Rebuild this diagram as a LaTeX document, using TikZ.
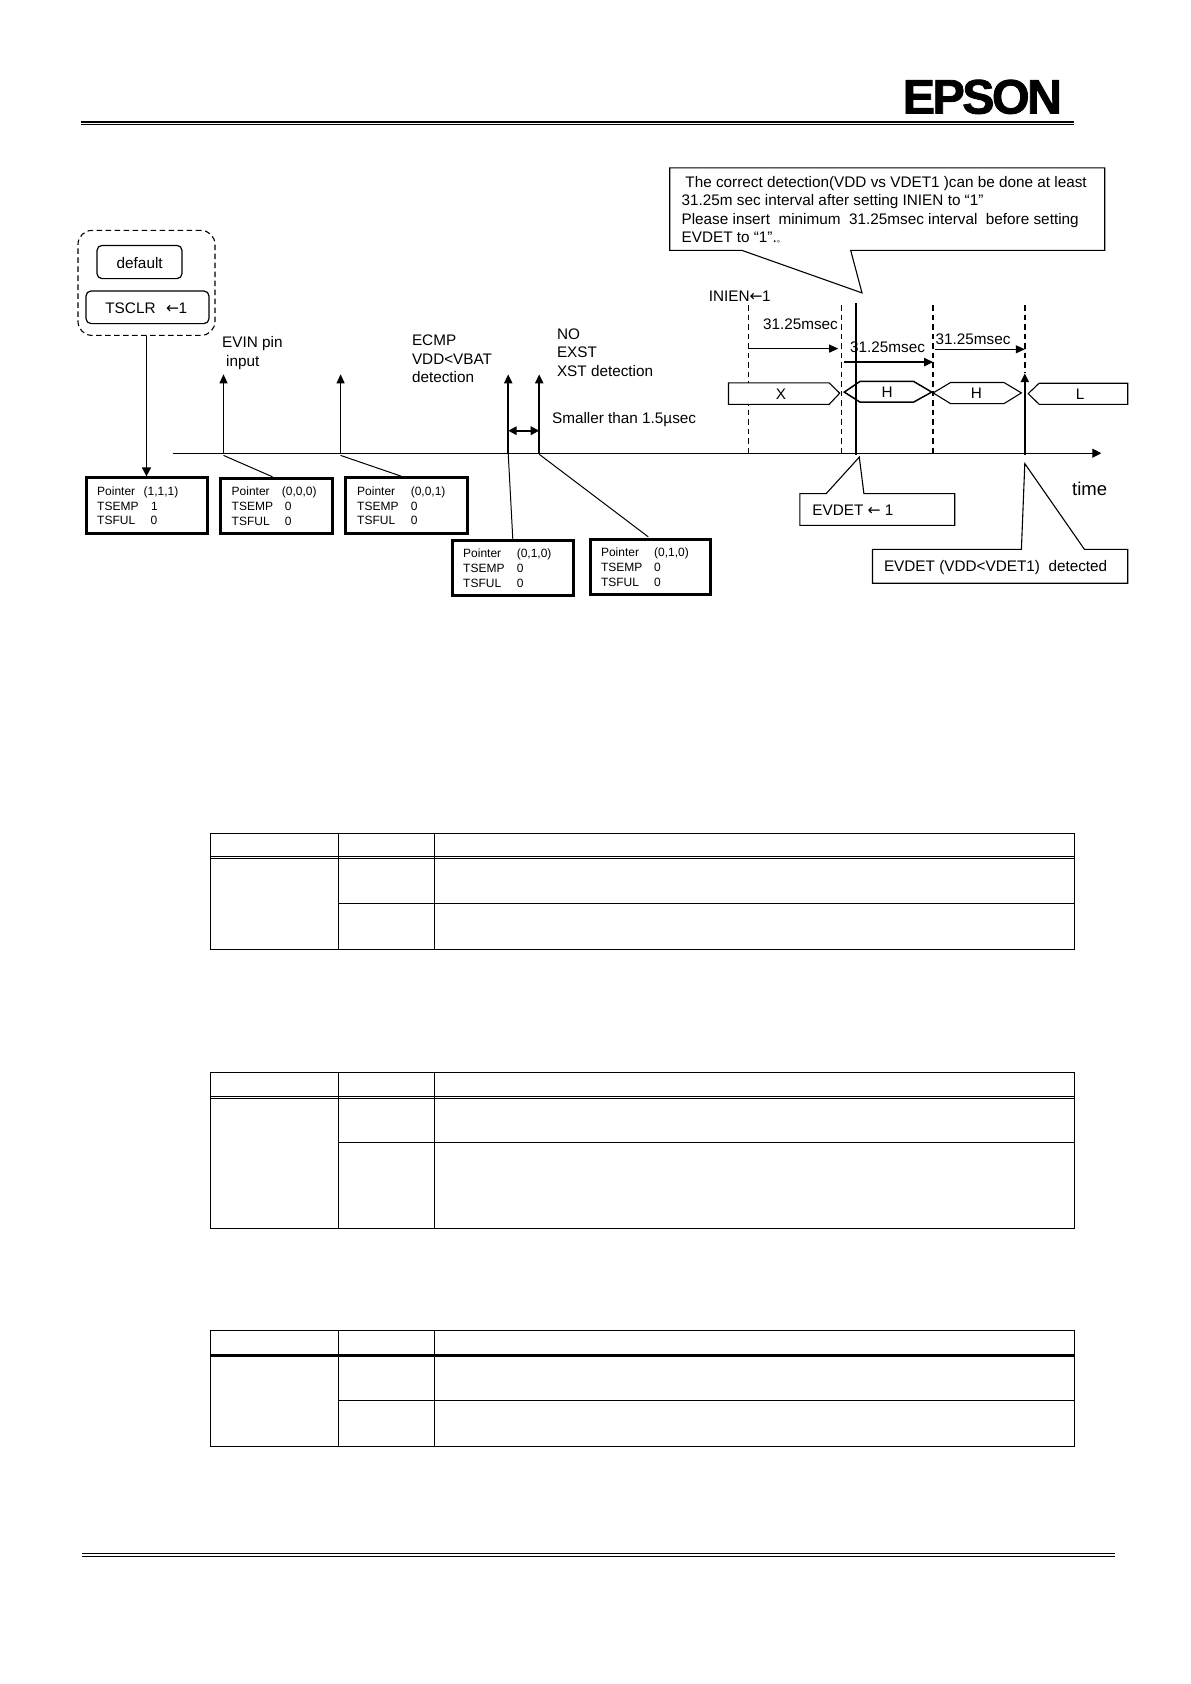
\documentclass[tikz,border=0pt]{standalone}
\usepackage{fontspec}
\setmainfont{Liberation Sans}
\newfontfamily\cjk{Noto Sans CJK SC}
\newfontfamily\arrfont{DejaVu Sans}
\newfontfamily\logofont[LetterSpace=-5.4,FakeBold=1.6]{Liberation Sans}
\newcommand\la{{\arrfont\fontsize{15.5}{18}\selectfont ←}}
\usetikzlibrary{arrows.meta,fit,calc}
\tikzset{
  x=1pt,y=-1pt,
  small/.style={anchor=base west,inner sep=0pt,font=\fontsize{12}{14}\selectfont},
  big/.style={anchor=base west,inner sep=0pt,font=\fontsize{15.3}{18}\selectfont},
  mid/.style={anchor=base,inner sep=0pt,font=\fontsize{15.3}{18}\selectfont},
  ptrbox/.style={draw,line width=3pt,inner sep=0pt,fill=white},
  roundbox/.style={draw,line width=1.2pt,inner sep=0pt,rounded corners=5pt},
  groupbox/.style={draw,line width=1.1pt,inner sep=0pt,rounded corners=14pt,dash pattern=on 5.5pt off 3.5pt},
  thinarrow/.style={line width=1pt,-{Triangle[length=9pt,width=8pt]}},
  thickarrow/.style={line width=2pt,-{Triangle[length=9pt,width=8pt]}},
  leader/.style={line width=1pt},
  bus/.style={draw,line width=1.1pt,line join=miter},
  tbl/.style={line width=1.4pt},
  tblthin/.style={line width=0.9pt},
  rule/.style={line width=1.5pt}
}
\begin{document}
\begin{tikzpicture}
\useasboundingbox[fill=white] (0,0) rectangle (1191,1684);
% header / footer
\draw[rule] (81,122) -- (1074,122);
\draw[rule] (81,124.6) -- (1074,124.6);
\draw[rule] (82.4,1553.7) -- (1114.8,1553.7);
\draw[rule] (82.4,1556.3) -- (1114.8,1556.3);
\node[anchor=base west,inner sep=0pt,font=\fontsize{48.5}{50}\logofont\bfseries] (logo) at (902.5,113.6) {EPSON};

% group
\node[groupbox,fit={(78,230.4)(215,335.4)}] (grp) {};
\node[roundbox,fit={(97,245.4)(182,278.6)}] (def) {};
\node[mid] (deftxt) at (139.7,268) {default};
\node[roundbox,fit={(86,291)(209,323.6)}] (clr) {};
\node[big] (clrtxt) at (105.2,313) {TSCLR};
\node[big] (clrarr) at (166,313) {\la\kern-0.5pt 1};

% pointer boxes
\node[ptrbox,fit={(86.8,477.9)(207.1,533.5)}] (b1) {};
\node[ptrbox,fit={(220.5,478.3)(332.5,533.9)}] (b2) {};
\node[ptrbox,fit={(345.9,477.9)(467.5,533.5)}] (b3) {};
\node[ptrbox,fit={(452.5,540.5)(573.5,595.5)}] (b4) {};
\node[ptrbox,fit={(590.1,539)(710.8,594.9)}] (b5) {};
% box 1
\node[small] (b1a) at (97,495) {Pointer};  \node[small] (b1av) at (143.5,495) {(1,1,1)};
\node[small] (b1b) at (97,510) {TSEMP};    \node[small] (b1bv) at (151,510) {1};
\node[small] (b1c) at (97,524.7) {TSFUL};  \node[small] (b1cv) at (150.5,524.7) {0};
% box 2
\node[small] (b2a) at (231.5,495.7) {Pointer}; \node[small] (b2av) at (281.7,495.7) {(0,0,0)};
\node[small] (b2b) at (231.5,510.3) {TSEMP};   \node[small] (b2bv) at (284.7,510.3) {0};
\node[small] (b2c) at (231.5,525) {TSFUL};     \node[small] (b2cv) at (284.7,525) {0};
% box 3
\node[small] (b3a) at (357,495) {Pointer};  \node[small] (b3av) at (410.6,495) {(0,0,1)};
\node[small] (b3b) at (357,510) {TSEMP};    \node[small] (b3bv) at (410.6,510) {0};
\node[small] (b3c) at (357,524.7) {TSFUL};  \node[small] (b3cv) at (410.6,524.7) {0};
% box 4
\node[small] (b4a) at (463,557.9) {Pointer};  \node[small] (b4av) at (516.6,557.9) {(0,1,0)};
\node[small] (b4b) at (463,572.5) {TSEMP};    \node[small] (b4bv) at (516.6,572.5) {0};
\node[small] (b4c) at (463,587.2) {TSFUL};    \node[small] (b4cv) at (516.6,587.2) {0};
% box 5
\node[small] (b5a) at (600.8,556.4) {Pointer}; \node[small] (b5av) at (653.9,556.4) {(0,1,0)};
\node[small] (b5b) at (600.8,571.1) {TSEMP};   \node[small] (b5bv) at (653.9,571.1) {0};
\node[small] (b5c) at (600.8,586.1) {TSFUL};   \node[small] (b5cv) at (653.9,586.1) {0};

\draw[line width=1.5pt,-{Triangle[length=9pt,width=9pt]}] (grp.south) -- (grp.south |- b1.north);

% time axis
\coordinate (axs) at (172.6,453.2);
\coordinate (axe) at (1101.3,453.2);
\draw[line width=1.1pt,-{Triangle[length=9pt,width=9pt]}] (axs) -- (axe);

% event arrows
\coordinate (e1) at (223.5,453.2); \coordinate (e1t) at (223.5,374.3);
\coordinate (e2) at (340.6,453.2); \coordinate (e2t) at (340.6,374.3);
\coordinate (e3) at (508.2,453.2); \coordinate (e3t) at (508.2,374.3);
\coordinate (e4) at (539.2,453.2); \coordinate (e4t) at (539.2,374.3);
\draw[thinarrow] (e1) -- (e1t);
\draw[thinarrow] (e2) -- (e2t);
\draw[thickarrow] (e3) -- (e3t);
\draw[thickarrow] (e4) -- (e4t);
\coordinate (w1) at (508.2,430.7); \coordinate (w2) at (539.2,430.7);
\draw[line width=1.8pt,{Triangle[length=8.5pt,width=8.5pt]}-{Triangle[length=8.5pt,width=8.5pt]}] (w1) -- (w2);

% leaders to boxes
\coordinate (l1a) at (223.5,455.4); \coordinate (l1b) at (272.5,476.8);
\coordinate (l2a) at (340.6,455.4); \coordinate (l2b) at (401.8,476.4);
\coordinate (l3a) at (508.2,453.2); \coordinate (l3b) at (512.8,539);
\coordinate (l4a) at (539.2,454.3); \coordinate (l4b) at (648.2,536.8);
\draw[leader] (l1a) -- (l1b);
\draw[leader] (l2a) -- (l2b);
\draw[leader] (l3a) -- (l3b);
\draw[leader] (l4a) -- (l4b);

% event labels
\node[big] (ev1) at (222,347.4) {EVIN pin};
\node[big] (ev1b) at (226,366.4) {input};
\node[big] (ev3a) at (411.8,345) {ECMP};
\node[big] (ev3b) at (411.8,364) {VDD<VBAT};
\node[big] (ev3c) at (411.8,382.5) {detection};
\node[big] (ev4a) at (556.8,339.4) {NO};
\node[big] (ev4b) at (556.8,357.9) {EXST};
\node[big] (ev4c) at (556.8,376.4) {XST detection};
\node[big] (sm) at (551.9,423.3) {Smaller than 1.5µsec};

% callout
\coordinate (ca) at (742,250.4);
\coordinate (cb) at (862,292.9);
\coordinate (cc) at (850.7,250.4);
\draw[line width=1.1pt,line join=miter] (669.7,167.9) -- (1104.7,167.9) -- (1104.7,250.4) -- (cc) -- (cb) -- (ca) -- (669.7,250.4) -- cycle;
\node[big] (ct1) at (685.2,187.5) {The correct detection(VDD vs VDET1 )can be done at least};
\node[big] (ct2) at (681.4,205.8) {31.25m sec interval after setting INIEN to “1”};
\node[big] (ct3) at (681.4,224.3) {Please insert\ \ minimum\ \ 31.25msec interval\ \ before setting};
\node[big] (ct4) at (681.4,242.2) {EVDET to “1”.{\cjk\fontsize{8}{8}\selectfont 。}};

\node[big] (inien) at (708.6,301.1) {INIEN\la\kern-0.5pt 1};

% timing guides
\coordinate (d1) at (748.5,305);  \coordinate (d1b) at (748.5,455);
\coordinate (d2) at (841.6,305);  \coordinate (d2b) at (841.6,455);
\coordinate (d3) at (933.2,305);  \coordinate (d3b) at (933.2,455);
\coordinate (d4) at (1024.8,305); \coordinate (d4b) at (1024.8,455);
\coordinate (s1) at (856.3,303.2); \coordinate (s1b) at (856.3,455);
\coordinate (a4t) at (1024.8,373.2);
\draw[line width=0.9pt,dash pattern=on 5.5pt off 4pt] (d1) -- (d1b);
\draw[line width=1.2pt,dash pattern=on 5.5pt off 4pt] (d2) -- (d2b);
\draw[line width=1.7pt,dash pattern=on 5.5pt off 4pt] (d3) -- (d3b);
\draw[line width=1.9pt,dash pattern=on 5.5pt off 4pt] (d4) -- (a4t);
\draw[line width=1.7pt] (s1) -- (s1b);
\draw[thickarrow] (d4b) -- (a4t);

\node[big] (t1) at (762.8,329.7) {31.25msec};
\node[big] (t2) at (849.9,352.5) {31.25msec};
\node[big] (t3) at (935.5,344) {31.25msec};
\coordinate (a1s) at (748.5,348.6); \coordinate (a1e) at (838.2,348.6);
\coordinate (a2s) at (843.9,362.1); \coordinate (a2e) at (933.2,362.1);
\coordinate (a3s) at (935,349.3);   \coordinate (a3e) at (1024.8,349.3);
\draw[thinarrow] (a1s) -- (a1e);
\draw[thickarrow] (a2s) -- (a2e);
\draw[thinarrow] (a3s) -- (a3e);

% bus
\draw[bus,fill=white] (728.5,382.9) -- (829.2,382.9) -- (839.7,393.2) -- (829.2,404.3) -- (728.5,404.3) -- cycle;
\draw[bus,line width=1.5pt,fill=white] (844.3,392.1) -- (860,381.4) -- (913.6,381.4) -- (931.7,392.1) -- (913.6,402.1) -- (860,402.1) -- cycle;
\draw[bus,fill=white] (933.2,392.9) -- (950.5,382.5) -- (1004,382.5) -- (1021.4,392.9) -- (1004,403.6) -- (950.5,403.6) -- cycle;
\draw[bus,fill=white] (1028.2,393.6) -- (1039.1,383.2) -- (1127.7,383.2) -- (1127.7,404.3) -- (1039.1,404.3) -- cycle;
\draw[line width=1.7pt] (856.3,381.4) -- (856.3,402.1);
\node[mid] (bx) at (780.9,399) {X};
\node[mid] (bh1) at (887.2,397.9) {H};
\node[mid] (bh2) at (976.5,398.3) {H};
\node[mid] (bl) at (1080.2,399) {L};
\draw[line width=1.9pt] (1024.8,383) -- (1024.8,404);

\node[anchor=base west,inner sep=0pt,font=\fontsize{18.5}{20}\selectfont] (time) at (1071.9,495.6) {time};

% lower callouts
\coordinate (p1) at (826.2,493.6); \coordinate (p2) at (859.3,457.1); \coordinate (p3) at (863.9,493.6);
\draw[line width=1.1pt,line join=miter] (799.8,493.6) -- (p1) -- (p2) -- (p3) -- (954.7,493.6) -- (954.7,525.4) -- (799.8,525.4) -- cycle;
\node[big] (evd) at (812.2,515) {EVDET \la\ 1};
\coordinate (q1) at (1021.4,549.3); \coordinate (q2) at (1024.8,463.6); \coordinate (q3) at (1084.4,549.3);
\draw[line width=1.1pt,line join=miter] (872.5,549.3) -- (q1) -- (q2) -- (q3) -- (1127.7,549.3) -- (1127.7,583.2) -- (872.5,583.2) -- cycle;
\node[big] (evd2) at (883.8,571.8) {EVDET (VDD<VDET1)\ \ detected};

% tables
\foreach \t/\d/\da/\m/\b in {833.5/856.6/858.6/903.3/949.2, 1072.5/1096.5/1098.6/1142.4/1228.3, 1330.5/1354.2/1355.8/1400.4/1446.3}{
  \draw[tbl] (210.6,\t) rectangle (1074.5,\b);
  \draw[tblthin] (338.3,\t) -- (338.3,\b);
  \draw[tblthin] (434.2,\t) -- (434.2,\b);
  \draw[tbl] (210.6,\d) -- (1074.5,\d);
  \draw[tbl] (210.6,\da) -- (1074.5,\da);
  \draw[tbl] (338.3,\m) -- (1074.5,\m);
}
\end{tikzpicture}
\end{document}
